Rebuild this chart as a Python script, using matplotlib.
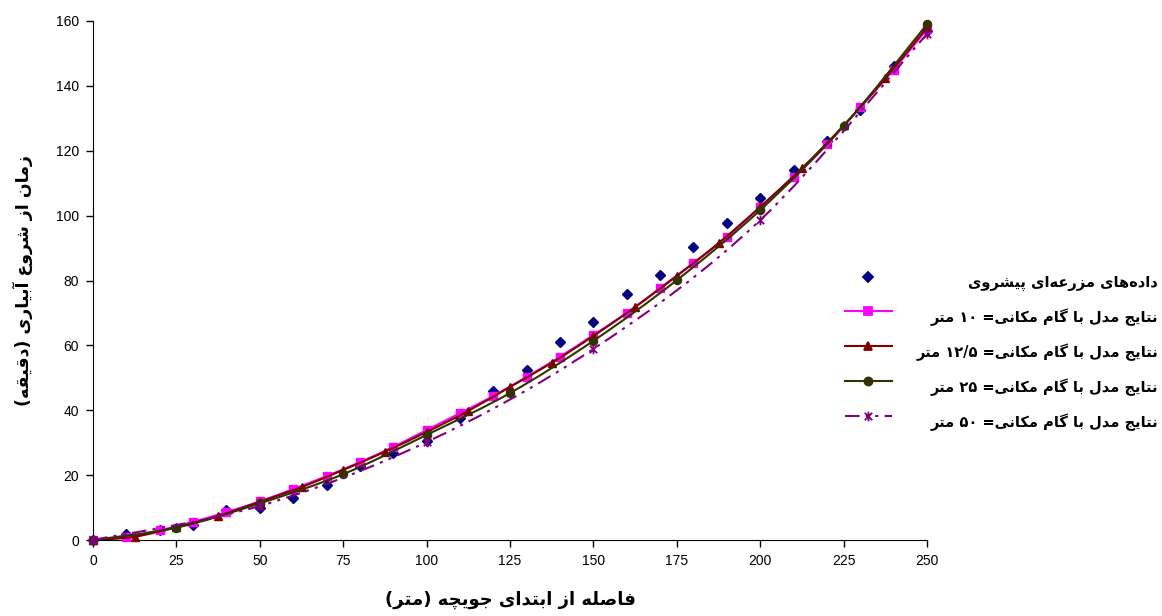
import re
import numpy as np
import matplotlib
matplotlib.use('Agg')
import matplotlib.pyplot as plt
from matplotlib.path import Path
from matplotlib.patches import PathPatch
from matplotlib.lines import Line2D

# داده‌های مزرعه‌ای
field_x = [0, 10, 20, 30, 40, 50, 60, 70, 80, 90, 100, 110, 120, 130, 140, 150, 160, 170, 180, 190, 200, 210, 220, 230, 240, 250]
field_y = [0, 1.8, 3.2, 4.5, 9.2, 9.8, 13.1, 17.0, 22.8, 26.8, 30.5, 37.5, 46.0, 52.3, 60.9, 67.2, 75.8, 81.7, 90.3, 97.6, 105.5, 114.0, 123.0, 132.5, 146.0, 157.0]

# گام مکانی 10 متر
x10 = [0, 10, 20, 30, 40, 50, 60, 70, 80, 90, 100, 110, 120, 130, 140, 150, 160, 170, 180, 190, 200, 210, 220, 230, 240, 250]
y10 = [0, 1.0, 3.0, 5.6, 8.6, 11.9, 15.7, 19.7, 24.0, 28.7, 33.9, 39.1, 44.4, 50.3, 56.5, 63.2, 70.0, 77.7, 85.4, 93.4, 102.6, 112.0, 122.0, 133.4, 145.0, 157.5]

# گام مکانی 12.5 متر
x125 = [0, 12.5, 25, 37.5, 50, 62.5, 75, 87.5, 100, 112.5, 125, 137.5, 150, 162.5, 175, 187.5, 200, 212.5, 225, 237.5, 250]
y125 = [0, 1.0, 4.0, 7.4, 11.8, 16.3, 21.6, 27.2, 33.3, 39.8, 47.2, 54.6, 62.9, 71.8, 81.4, 91.5, 102.7, 114.6, 127.8, 142.3, 158.0]

# گام مکانی 25 متر
x25 = [0, 25, 50, 75, 100, 125, 150, 175, 200, 225, 250]
y25 = [0, 3.8, 11.3, 20.3, 32.4, 45.3, 61.4, 80.1, 101.7, 127.6, 159.0]

# گام مکانی 50 متر
x50 = [0, 50, 100, 150, 200, 250]
y50 = [0, 10.5, 30.2, 58.9, 98.6, 156.0]

x_ticks = [0, 25, 50, 75, 100, 125, 150, 175, 200, 225, 250]
y_ticks = [0, 20, 40, 60, 80, 100, 120, 140, 160]

x_label = 'فاصله از ابتدای جویچه (متر)'
y_label = 'زمان از شروع آبیاری (دقیقه)'
labels = ['داده\u200cهای مزرعه\u200cای پیشروی',
          'نتایج مدل با گام مکانی= ۱۰ متر',
          'نتایج مدل با گام مکانی= ۱۲/۵ متر',
          'نتایج مدل با گام مکانی= ۲۵ متر',
          'نتایج مدل با گام مکانی= ۵۰ متر']

# شکل حروف (جدا، پایانی، آغازی، میانی)
FORMS = {
    'ا': ('\uFE8D', '\uFE8E', None, None),
    'آ': ('\uFE81', '\uFE82', None, None),
    'ب': ('\uFE8F', '\uFE90', '\uFE91', '\uFE92'),
    'پ': ('\uFB56', '\uFB57', '\uFB58', '\uFB59'),
    'ت': ('\uFE95', '\uFE96', '\uFE97', '\uFE98'),
    'ج': ('\uFE9D', '\uFE9E', '\uFE9F', '\uFEA0'),
    'چ': ('\uFB7A', '\uFB7B', '\uFB7C', '\uFB7D'),
    'د': ('\uFEA9', '\uFEAA', None, None),
    'ر': ('\uFEAD', '\uFEAE', None, None),
    'ز': ('\uFEAF', '\uFEB0', None, None),
    'ش': ('\uFEB5', '\uFEB6', '\uFEB7', '\uFEB8'),
    'ص': ('\uFEB9', '\uFEBA', '\uFEBB', '\uFEBC'),
    'ع': ('\uFEC9', '\uFECA', '\uFECB', '\uFECC'),
    'ف': ('\uFED1', '\uFED2', '\uFED3', '\uFED4'),
    'ق': ('\uFED5', '\uFED6', '\uFED7', '\uFED8'),
    'ک': ('\uFB8E', '\uFB8F', '\uFB90', '\uFB91'),
    'گ': ('\uFB92', '\uFB93', '\uFB94', '\uFB95'),
    'ل': ('\uFEDD', '\uFEDE', '\uFEDF', '\uFEE0'),
    'م': ('\uFEE1', '\uFEE2', '\uFEE3', '\uFEE4'),
    'ن': ('\uFEE5', '\uFEE6', '\uFEE7', '\uFEE8'),
    'ه': ('\uFEE9', '\uFEEA', '\uFEEB', '\uFEEC'),
    'و': ('\uFEED', '\uFEEE', None, None),
    'ی': ('\uFBFC', '\uFBFD', '\uFBFE', '\uFBFF'),
}


def fa(text):
    # اتصال حروف و راست به چپ کردن متن
    out = []
    for i, c in enumerate(text):
        if c not in FORMS:
            out.append(c)
            continue
        prev = text[i - 1] if i > 0 else None
        nxt = text[i + 1] if i + 1 < len(text) else None
        jp = prev in FORMS and FORMS[prev][2] is not None
        jn = FORMS[c][2] is not None and nxt in FORMS
        iso, fin, ini, med = FORMS[c]
        if jp and jn:
            out.append(med)
        elif jp:
            out.append(fin)
        elif jn:
            out.append(ini)
        else:
            out.append(iso)
    s = ''.join(out).replace('\u200c', '')[::-1]
    s = s.translate(str.maketrans('()', ')('))
    s = re.sub('[۰-۹0-9/]+', lambda m: m.group(0)[::-1], s)
    return s


def smooth(xs, ys):
    # منحنی هموار مثل اکسل
    p = np.column_stack([xs, ys]).astype(float)
    n = len(p)
    verts = [p[0]]
    codes = [Path.MOVETO]
    for i in range(n - 1):
        p0 = p[i - 1] if i > 0 else p[i]
        p3 = p[i + 2] if i + 2 < n else p[i + 1]
        verts += [p[i] + (p[i + 1] - p0) / 6, p[i + 1] - (p3 - p[i]) / 6, p[i + 1]]
        codes += [Path.CURVE4] * 3
    return Path(verts, codes)


star = Path([(-1, -1), (1, 1), (-1, 1), (1, -1), (0, -1.3), (0, 1.3)],
            [Path.MOVETO, Path.LINETO, Path.MOVETO, Path.LINETO, Path.MOVETO, Path.LINETO])

W, H = 1162, 616
fig = plt.figure(figsize=(W / 100, H / 100), dpi=100)
ax = fig.add_axes([93 / W, 76 / H, 834 / W, 519 / H])

styles = [
    # (x, y, color, marker, size, linestyle)
    (x10, y10, '#FF00FF', 's', 5.5, '-'),
    (x125, y125, '#800000', '^', 6, '-'),
    (x25, y25, '#333300', 'o', 5.8, '-'),
    (x50, y50, '#800080', star, 7, (0, (7, 3, 1.5, 3, 1.5, 3))),
]

ax.plot(field_x, field_y, ls='none', marker='D', ms=5.5, color='#000080', clip_on=False, zorder=2)
z = 3
for xs, ys, col, mk, ms, ls in styles:
    ax.add_patch(PathPatch(smooth(xs, ys), fill=False, edgecolor=col, lw=1.5, linestyle=ls, zorder=z))
    if mk is star:
        ax.plot(xs, ys, ls='none', marker=mk, ms=ms, color=col, mew=1.3, clip_on=False, zorder=z + 0.5)
    else:
        ax.plot(xs, ys, ls='none', marker=mk, ms=ms, color=col, mec=col, clip_on=False, zorder=z + 0.5)
    z += 1

ax.set_xlim(0, 250)
ax.set_ylim(0, 160)
ax.set_xticks(x_ticks)
ax.set_yticks(y_ticks)
ax.spines['top'].set_visible(False)
ax.spines['right'].set_visible(False)
ax.tick_params(direction='out', length=5, width=1, labelsize=10, pad=5)
for t in ax.get_xticklabels() + ax.get_yticklabels():
    t.set_fontfamily('Liberation Sans')

fig.text(510 / W, 1 - 600 / H, fa(x_label), ha='center', va='center',
         fontsize=13, fontweight='bold', family=['DejaVu Sans'])
fig.text(23 / W, 1 - 280 / H, fa(y_label), ha='center', va='center', rotation=90,
         fontsize=12.5, fontweight='bold', family=['DejaVu Sans'])

# راهنما
rows = [277, 311, 346, 381, 416]
leg = [(None, '#000080', 'D', 5.5, '-')] + [(None, c, m, s, l) for _, _, c, m, s, l in styles]
for (_, col, mk, ms, ls), py, lab in zip(leg, rows, labels):
    fy = 1 - py / H
    if mk != 'D':
        fig.add_artist(Line2D([845 / W, 892 / W], [fy, fy], transform=fig.transFigure,
                              color=col, lw=1.5, linestyle=ls))
    fig.add_artist(Line2D([868 / W], [fy], transform=fig.transFigure, ls='none',
                          marker=mk, ms=ms, color=col, mew=1.3))
    fig.text(1158 / W, 1 - (py + 6) / H, fa(lab), ha='right', va='center',
             fontsize=10.5, fontweight='bold', family=['DejaVu Sans'])

fig.savefig('out.png', dpi=100)
